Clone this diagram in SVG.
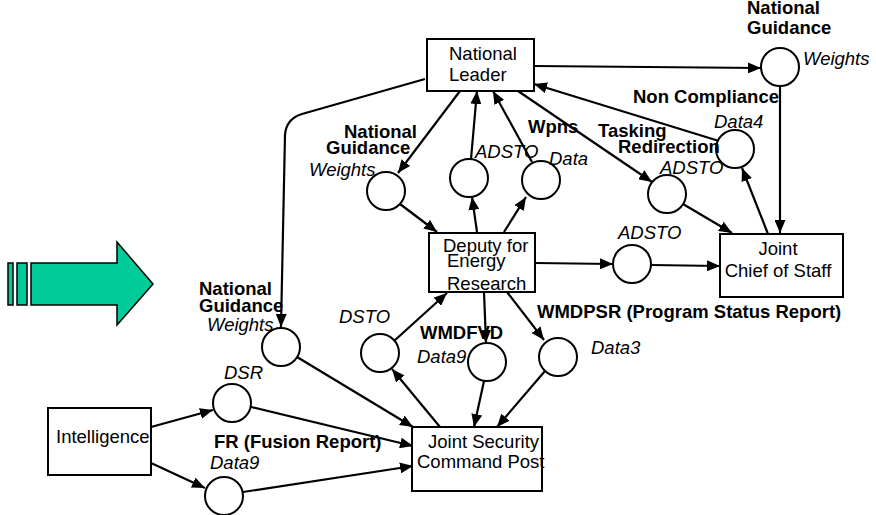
<svg xmlns="http://www.w3.org/2000/svg" width="876" height="515" viewBox="0 0 876 515">
  <style>
    text { font-family: "Liberation Sans", Arial, sans-serif; font-size: 18.5px; fill: #000; }
    .b { font-weight: bold; }
    .i { font-style: italic; }
    .box { fill: #fff; stroke: #000; stroke-width: 2; }
    .place { fill: #fff; stroke: #000; stroke-width: 2; }
    .arc { fill: none; stroke: #000; stroke-width: 2.2; marker-end: url(#head); }
    .flow { fill: #00CC99; stroke: #000; stroke-width: 1.5; }
  </style>
  <defs>
    <marker id="head" markerUnits="userSpaceOnUse" markerWidth="13" markerHeight="11" refX="13" refY="5.5" orient="auto">
      <path d="M0,0 L13,5.5 L0,11 z" fill="#000"/>
    </marker>
  </defs>
  <rect width="876" height="515" fill="#fff"/>

  <!-- flow arrow on the left -->
  <g id="flow-arrow">
    <rect class="flow" x="8" y="263" width="5" height="42"/>
    <rect class="flow" x="17" y="263" width="10" height="42"/>
    <path class="flow" d="M31,263 L117,263 L117,242 L153,284 L117,325 L117,305 L31,305 z"/>
  </g>

  <!-- connectors -->
  <g id="connectors">
    <path class="arc" d="M425,79 L302,114 Q286,119 285,135 L281,327"/>
    <line class="arc" x1="460" y1="91" x2="398" y2="173"/>
    <line class="arc" x1="471" y1="159" x2="477" y2="91"/>
    <line class="arc" x1="532" y1="162" x2="493" y2="91"/>
    <line class="arc" x1="518" y1="91" x2="652" y2="182"/>
    <line class="arc" x1="719" y1="141" x2="534" y2="84"/>
    <line class="arc" x1="534" y1="66" x2="761" y2="68"/>
    <line class="arc" x1="780" y1="86" x2="780" y2="233"/>
    <line class="arc" x1="768" y1="234" x2="742" y2="168"/>
    <line class="arc" x1="683" y1="204" x2="732" y2="233"/>
    <line class="arc" x1="535" y1="263" x2="613" y2="264"/>
    <line class="arc" x1="651" y1="265" x2="720" y2="266"/>
    <line class="arc" x1="400" y1="204" x2="437" y2="232"/>
    <line class="arc" x1="477" y1="232" x2="472" y2="197"/>
    <line class="arc" x1="504" y1="232" x2="526" y2="197"/>
    <line class="arc" x1="394" y1="341" x2="447" y2="293"/>
    <line class="arc" x1="440" y1="427" x2="392" y2="369"/>
    <line class="arc" x1="484" y1="292" x2="486" y2="343"/>
    <line class="arc" x1="484" y1="381" x2="474" y2="427"/>
    <line class="arc" x1="507" y1="292" x2="544" y2="340"/>
    <line class="arc" x1="545" y1="371" x2="497" y2="427"/>
    <line class="arc" x1="297" y1="357" x2="413" y2="427"/>
    <line class="arc" x1="251" y1="407" x2="413" y2="446"/>
    <line class="arc" x1="243" y1="492" x2="413" y2="466"/>
    <line class="arc" x1="151" y1="427" x2="213" y2="410"/>
    <line class="arc" x1="151" y1="463" x2="205" y2="488"/>
  </g>

  <!-- boxes -->
  <g id="national-leader">
    <rect class="box" x="427" y="39" width="107" height="52"/>
    <text x="449" y="60">National</text>
    <text x="449" y="81">Leader</text>
  </g>
  <g id="deputy-energy-research">
    <rect class="box" x="429" y="233" width="106" height="59"/>
    <text x="443" y="252">Deputy for</text>
    <text x="447" y="267">Energy</text>
    <text x="447" y="290">Research</text>
  </g>
  <g id="joint-chief-of-staff">
    <rect class="box" x="720" y="234" width="123" height="63"/>
    <text x="778" y="255" text-anchor="middle">Joint</text>
    <text x="778" y="277" text-anchor="middle">Chief of Staff</text>
  </g>
  <g id="joint-security-command-post">
    <rect class="box" x="412" y="427" width="130" height="64"/>
    <text x="428" y="448">Joint Security</text>
    <text x="417" y="468">Command Post</text>
  </g>
  <g id="intelligence">
    <rect class="box" x="48" y="408" width="103" height="67"/>
    <text x="56" y="443">Intelligence</text>
  </g>

  <!-- places -->
  <g id="ng-weights-top">
    <circle class="place" cx="780" cy="67" r="19"/>
    <text class="b" x="747" y="14">National</text>
    <text class="b" x="747" y="34">Guidance</text>
    <text class="i" x="803" y="65">Weights</text>
  </g>
  <g id="noncompliance-data4">
    <circle class="place" cx="735" cy="149" r="19"/>
    <text class="b" x="633" y="103">Non Compliance</text>
    <text class="i" x="714" y="128">Data4</text>
  </g>
  <g id="tasking-adsto">
    <circle class="place" cx="667" cy="194" r="19"/>
    <text class="b" x="598" y="137">Tasking</text>
    <text class="b" x="618" y="153">Redirection</text>
    <text class="i" x="660" y="174">ADSTO</text>
  </g>
  <g id="ng-weights-mid">
    <circle class="place" cx="386" cy="191" r="19"/>
    <text class="b" x="344" y="138">National</text>
    <text class="b" x="326" y="154">Guidance</text>
    <text class="i" x="309" y="176">Weights</text>
  </g>
  <g id="adsto-up">
    <circle class="place" cx="469" cy="178" r="19"/>
    <text class="i" x="475" y="158">ADSTO</text>
  </g>
  <g id="wpns-data">
    <circle class="place" cx="541" cy="180" r="19"/>
    <text class="b" x="528" y="133">Wpns</text>
    <text class="i" x="549" y="165">Data</text>
  </g>
  <g id="adsto-jcs">
    <circle class="place" cx="632" cy="264" r="19"/>
    <text class="i" x="618" y="239">ADSTO</text>
  </g>
  <g id="dsto">
    <circle class="place" cx="380" cy="353" r="19"/>
    <text class="i" x="339" y="323">DSTO</text>
  </g>
  <g id="wmdfvd-data9">
    <circle class="place" cx="487" cy="362" r="19"/>
    <text class="b" x="420" y="339">WMDFVD</text>
    <text class="i" x="417" y="363">Data9</text>
  </g>
  <g id="wmdpsr-data3">
    <circle class="place" cx="558" cy="357" r="19"/>
    <text class="b" x="537" y="318">WMDPSR (Program Status Report)</text>
    <text class="i" x="591" y="354">Data3</text>
  </g>
  <g id="ng-weights-low">
    <circle class="place" cx="281" cy="347" r="19"/>
    <text class="b" x="199" y="295">National</text>
    <text class="b" x="199" y="312">Guidance</text>
    <text class="i" x="207" y="331">Weights</text>
  </g>
  <g id="dsr">
    <circle class="place" cx="232" cy="403" r="19"/>
    <text class="i" x="224" y="379">DSR</text>
  </g>
  <g id="fr-data9">
    <circle class="place" cx="224" cy="496" r="19"/>
    <text class="b" x="214" y="448">FR (Fusion Report)</text>
    <text class="i" x="210" y="469">Data9</text>
  </g>
</svg>
